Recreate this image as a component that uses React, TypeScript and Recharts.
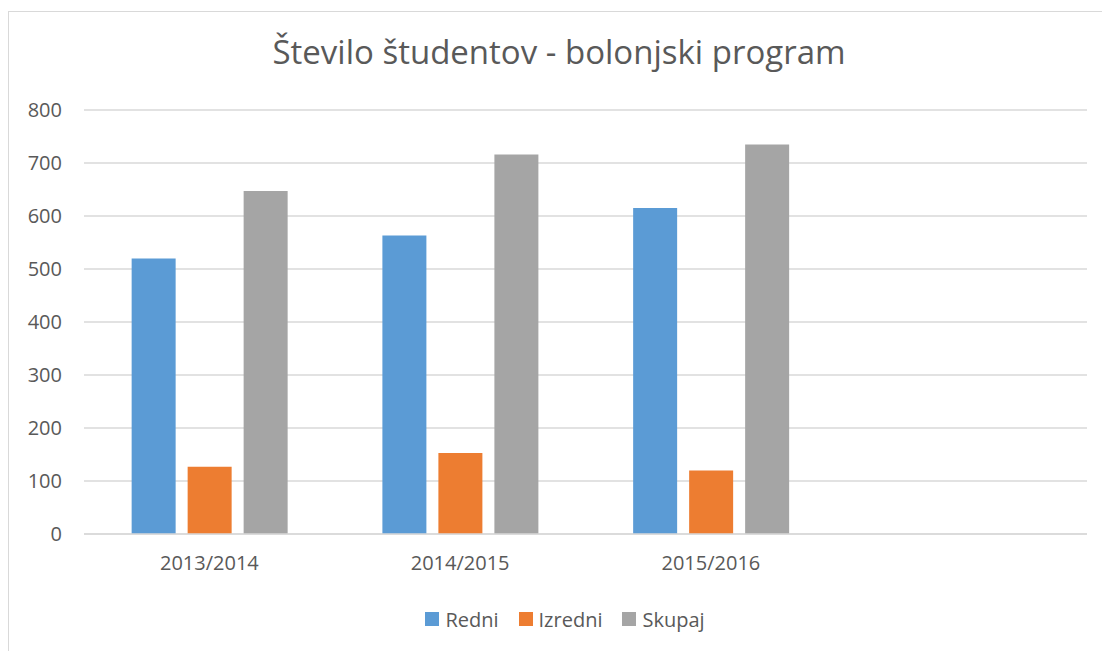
import { BarChart, Bar, XAxis, YAxis, CartesianGrid, Legend } from "recharts"

const years = ["2013/2014", "2014/2015", "2015/2016", ""]
const redni = [520, 563, 615, null]
const izredni = [127, 153, 120, null]
const skupaj = [647, 716, 735, null]
const yTicks = [0, 100, 200, 300, 400, 500, 600, 700, 800]

const series = [
  { key: "Redni", color: "#5B9BD5" },
  { key: "Izredni", color: "#ED7D31" },
  { key: "Skupaj", color: "#A5A5A5" },
]

const data = years.map((name, i) => ({
  name,
  Redni: redni[i],
  Izredni: izredni[i],
  Skupaj: skupaj[i],
}))

const font = "'Open Sans', sans-serif"
const textColor = "#595959"

function LegendBox() {
  return (
    <div
      style={{
        display: "flex",
        justifyContent: "center",
        alignItems: "center",
        height: 40,
        paddingLeft: 12,
        fontFamily: font,
        fontSize: 20,
        color: textColor,
      }}
    >
      {series.map((s) => (
        <div key={s.key} style={{ display: "flex", alignItems: "center", margin: "0 10px" }}>
          <span style={{ width: 14, height: 14, background: s.color, marginRight: 6 }} />
          <span>{s.key}</span>
        </div>
      ))}
    </div>
  )
}

export default function App() {
  return (
    <div style={{ position: "relative", width: 1102, height: 643, overflow: "hidden", background: "#fff" }}>
      <div
        style={{
          position: "absolute",
          left: 0,
          top: 3,
          width: 1200,
          height: 800,
          border: "1px solid #d9d9d9",
        }}
      />
      <div
        style={{
          position: "absolute",
          top: 21,
          left: 0,
          width: 1102,
          textAlign: "center",
          fontFamily: font,
          fontSize: 33,
          color: textColor,
        }}
      >
        Število študentov - bolonjski program
      </div>
      <div style={{ position: "absolute", left: 0, top: 0 }}>
        <BarChart
          width={1102}
          height={643}
          data={data}
          margin={{ top: 102, right: 23, left: 0, bottom: 0 }}
          barCategoryGap="19%"
          barGap={12}
        >
          <CartesianGrid vertical={false} stroke="#d9d9d9" strokeWidth={1.5} />
          <XAxis
            dataKey="name"
            height={77}
            axisLine={{ stroke: "#d9d9d9", strokeWidth: 1.5 }}
            tickLine={false}
            tickMargin={16}
            tick={{ fontSize: 20, fill: textColor, fontFamily: font }}
            interval={0}
          />
          <YAxis
            width={76}
            domain={[0, 800]}
            ticks={yTicks}
            axisLine={false}
            tickLine={false}
            tickMargin={16}
            tick={{ fontSize: 20, fill: textColor, fontFamily: font }}
          />
          <Legend
            verticalAlign="bottom"
            content={<LegendBox />}
            wrapperStyle={{ left: 0, width: 1102, top: 591 }}
          />
          {series.map((s) => (
            <Bar key={s.key} dataKey={s.key} fill={s.color} isAnimationActive={false} />
          ))}
        </BarChart>
      </div>
    </div>
  )
}
